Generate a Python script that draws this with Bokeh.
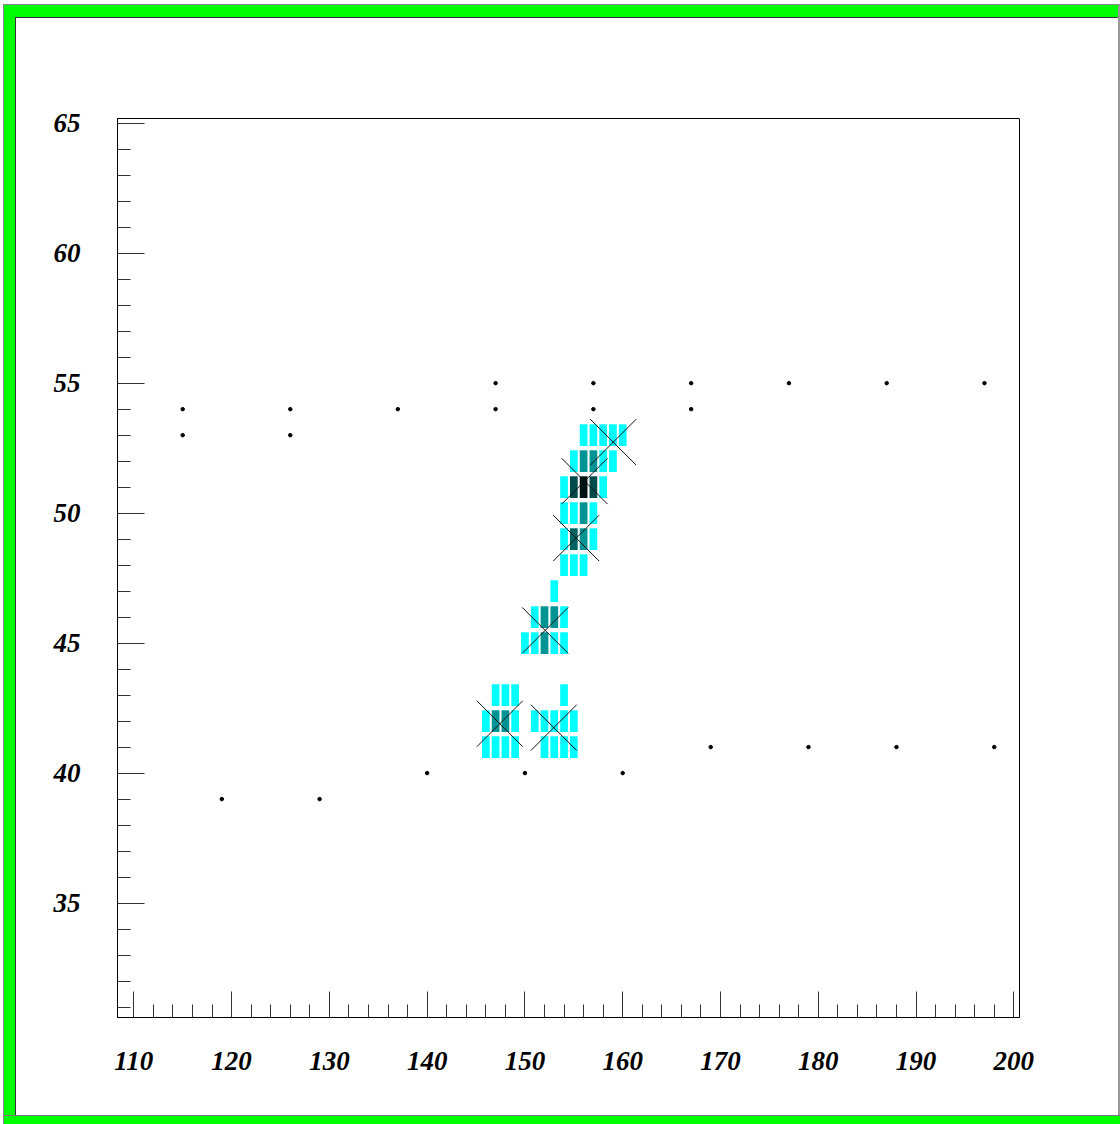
from bokeh.plotting import figure
from bokeh.models import Range1d, SingleIntervalTicker, ColumnDataSource
from bokeh.embed import file_html
from bokeh.resources import INLINE

# ---- data ----
cell_x = [156, 157, 158, 159, 160,
          155, 156, 157, 158, 159,
          154, 155, 156, 157, 158,
          154, 155, 156, 157,
          154, 155, 156, 157,
          154, 155, 156,
          153,
          151, 152, 153, 154,
          150, 151, 152, 153, 154,
          147, 148, 149, 154,
          146, 147, 148, 149, 151, 152, 153, 154, 155,
          146, 147, 148, 149, 152, 153, 154, 155]
cell_y = [53, 53, 53, 53, 53,
          52, 52, 52, 52, 52,
          51, 51, 51, 51, 51,
          50, 50, 50, 50,
          49, 49, 49, 49,
          48, 48, 48,
          47,
          46, 46, 46, 46,
          45, 45, 45, 45, 45,
          43, 43, 43, 43,
          42, 42, 42, 42, 42, 42, 42, 42, 42,
          41, 41, 41, 41, 41, 41, 41, 41]
cell_count = [1, 1, 1, 1, 1,
              1, 2, 2, 1, 1,
              1, 4, 5, 4, 1,
              1, 1, 2, 1,
              1, 3, 2, 1,
              1, 1, 1,
              1,
              1, 2, 2, 1,
              1, 1, 2, 1, 1,
              1, 1, 1, 1,
              1, 2, 2, 1, 1, 1, 1, 1, 1,
              1, 1, 1, 1, 1, 1, 1, 1]
level_colors = {1: "#00ffff", 2: "#009494", 3: "#006464", 4: "#004c4c", 5: "#001212"}

cross_x = [159.03, 156.1, 155.24, 152.07, 147.43, 152.95]
cross_y = [52.73, 51.23, 49.04, 45.49, 41.90, 41.75]

dot_x = [147, 157, 167, 177, 187, 197,
         115, 126, 137, 147, 157, 167,
         115, 126,
         169, 179, 188, 198,
         140, 150, 160,
         119, 129]
dot_y = [55, 55, 55, 55, 55, 55,
         54, 54, 54, 54, 54, 54,
         53, 53,
         41, 41, 41, 41,
         40, 40, 40,
         39, 39]

x_start, x_end = 108.33, 200.58
y_start, y_end = 30.60, 65.18

# ---- figure ----
W, H = 1120, 1124
p = figure(width=W, height=H, output_backend="svg", toolbar_location=None,
           x_range=Range1d(x_start, x_end), y_range=Range1d(y_start, y_end),
           min_border_left=117, min_border_right=101,
           min_border_top=118, min_border_bottom=107)

# transparent canvas so the page border (inset shadows on the host) shows through
p.border_fill_color = None
p.background_fill_color = "white"
p.outline_line_color = "black"
p.outline_line_width = 1
p.grid.visible = False
p.styles = {
    "background-color": "white",
    "box-shadow": ("inset 3px 4px 0 0 #ffffff, "
                   "inset 4px 5px 0 0 #888888, "
                   "inset 0 -8px 0 0 #00ff00, "
                   "inset 0 -9px 0 0 #777777, "
                   "inset -2px 0 0 0 #999999, "
                   "inset 15px 17px 0 0 #00ff00, "
                   "inset 16px 18px 0 0 #333333"),
}

# cells
src = ColumnDataSource(dict(x=cell_x, y=cell_y,
                            c=[level_colors[v] for v in cell_count]))
p.rect(x="x", y="y", width=0.79, height=0.835, source=src,
       fill_color="c", line_color=None)

# dots
p.scatter(dot_x, dot_y, marker="circle", size=3.5, fill_color="black", line_color="black")

# cross markers
p.scatter(cross_x, cross_y, marker="x", size=65, line_color="#111111", line_width=1)

# axes
for ax in p.xaxis:
    ax.ticker = SingleIntervalTicker(interval=10, num_minor_ticks=5)
    ax.major_tick_in = 26
    ax.major_tick_out = 0
    ax.minor_tick_in = 13
    ax.minor_tick_out = 0
    ax.major_label_standoff = 34
for ax in p.yaxis:
    ax.ticker = SingleIntervalTicker(interval=5, num_minor_ticks=5)
    ax.major_tick_in = 27
    ax.major_tick_out = 0
    ax.minor_tick_in = 13
    ax.minor_tick_out = 0
    ax.major_label_standoff = 37
for ax in p.xaxis + p.yaxis:
    ax.axis_line_color = "black"
    ax.major_tick_line_color = "#333333"
    ax.minor_tick_line_color = "#333333"
    ax.major_label_text_font = "Liberation Serif"
    ax.major_label_text_font_style = "bold italic"
    ax.major_label_text_font_size = "27px"
    ax.major_label_text_color = "black"

open("out.html", "w").write(file_html(p, INLINE))
